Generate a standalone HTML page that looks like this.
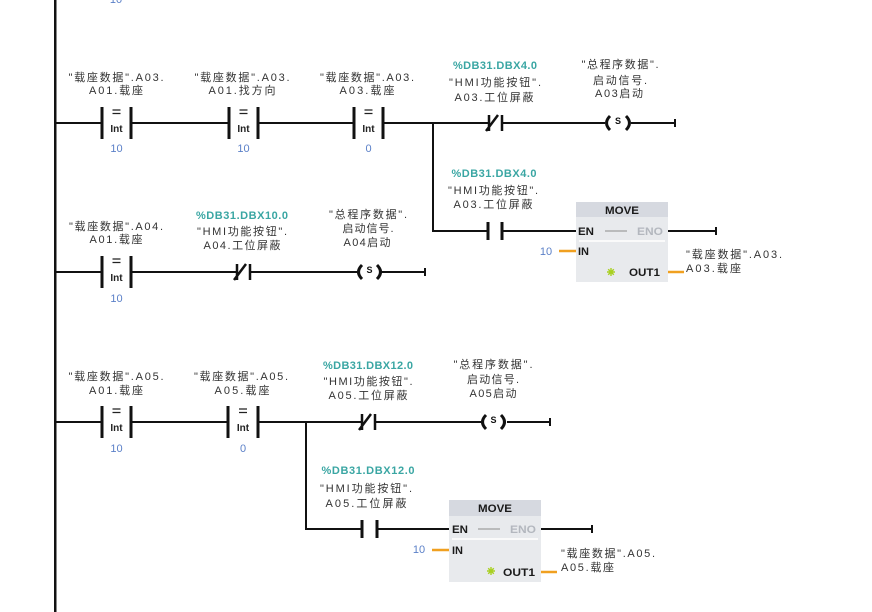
<!DOCTYPE html>
<html><head><meta charset="utf-8"><style>
html,body{margin:0;padding:0;background:#fff;}
svg{display:block;}
text{font-family:"Liberation Sans","Noto Sans CJK SC",sans-serif;}
.l{font-size:11px;fill:#333;text-anchor:middle;}
.ls{font-size:11px;fill:#333;}
.t{font-size:11px;font-weight:bold;fill:#3aa6a3;text-anchor:middle;}
.n{font-size:11px;fill:#5b80c8;text-anchor:middle;}
.i{font-size:10px;font-weight:bold;fill:#222;text-anchor:middle;}
.s{font-size:9px;font-weight:bold;fill:#111;text-anchor:middle;}
.w{stroke:#111;stroke-width:2;fill:none;}
.b{stroke:#111;stroke-width:3;fill:none;}
.p{stroke:#111;stroke-width:2.5;fill:none;}
.c{stroke:#111;stroke-width:3;fill:none;}
.eq{stroke:#222;stroke-width:1.3;fill:none;}
.o{stroke:#f0a020;stroke-width:2.5;fill:none;}
.bk{font-size:11px;font-weight:bold;fill:#1a1a1a;}
.g{font-size:11px;font-weight:bold;fill:#b3b7be;}
</style></head><body>
<svg width="872" height="612" xmlns="http://www.w3.org/2000/svg">
<rect width="872" height="612" fill="#fff"/>
<rect x="54" y="0" width="2.5" height="612" fill="#111"/>
<text class="n" x="116" y="3">10</text>

<!-- ===== Rung 1 (L=123) ===== -->
<path class="w" d="M55 123H102M131 123H229M258 123H354M383 123H489M502 123H605M631 123H675"/>
<path class="w" d="M675 119V127"/>
<path class="b" d="M102 107V139M131 107V139M229 107V139M258 107V139M354 107V139M383 107V139"/>
<path class="eq" d="M112.5 110H120.5M112.5 113.5H120.5M239.5 110H247.5M239.5 113.5H247.5M364.5 110H372.5M364.5 113.5H372.5"/>
<text class="i" x="116.5" y="132">Int</text>
<text class="i" x="243.5" y="132">Int</text>
<text class="i" x="368.5" y="132">Int</text>
<text class="n" x="116.5" y="152">10</text>
<text class="n" x="243.5" y="152">10</text>
<text class="n" x="368.5" y="152">0</text>
<text class="l" x="116" y="81" textLength="95" lengthAdjust="spacing">"载座数据".A03.</text>
<text class="l" x="116" y="94" textLength="54" lengthAdjust="spacing">A01.载座</text>
<text class="l" x="242" y="81" textLength="95" lengthAdjust="spacing">"载座数据".A03.</text>
<text class="l" x="242" y="94" textLength="67" lengthAdjust="spacing">A01.找方向</text>
<text class="l" x="367" y="81" textLength="94" lengthAdjust="spacing">"载座数据".A03.</text>
<text class="l" x="367" y="94" textLength="55" lengthAdjust="spacing">A03.载座</text>
<path class="p" d="M489 115V131M502 115V131M486 131L498 115"/>
<text class="t" x="495" y="69" textLength="84" lengthAdjust="spacing">%DB31.DBX4.0</text>
<text class="l" x="495" y="86" textLength="92" lengthAdjust="spacing">"HMI功能按钮".</text>
<text class="l" x="494" y="101" textLength="79" lengthAdjust="spacing">A03.工位屏蔽</text>
<path class="c" d="M610 116Q603 123 610 130M626 116Q633 123 626 130"/>
<text class="s" x="618" y="124">S</text>
<text class="l" x="620" y="68" textLength="77" lengthAdjust="spacing">"总程序数据".</text>
<text class="l" x="620" y="84" textLength="54" lengthAdjust="spacing">启动信号.</text>
<text class="l" x="619" y="97" textLength="48" lengthAdjust="spacing">A03启动</text>
<path class="w" d="M433 123V231H488M502 231H576"/>
<path class="b" d="M488 222V240M502 222V240"/>
<text class="t" x="494" y="177" textLength="85" lengthAdjust="spacing">%DB31.DBX4.0</text>
<text class="l" x="493" y="194" textLength="90" lengthAdjust="spacing">"HMI功能按钮".</text>
<text class="l" x="493" y="208" textLength="79" lengthAdjust="spacing">A03.工位屏蔽</text>
<rect x="576" y="202" width="92" height="80" fill="#e8eaed"/>
<rect x="576" y="202" width="92" height="15" fill="#d6d9e0"/>
<text class="bk" x="605" y="214" textLength="34" lengthAdjust="spacingAndGlyphs">MOVE</text>
<text class="bk" x="578" y="235" textLength="16" lengthAdjust="spacingAndGlyphs">EN</text>
<path d="M605 231H627" stroke="#8c8c8c" stroke-width="1"/>
<text class="g" x="637" y="235" textLength="26" lengthAdjust="spacingAndGlyphs">ENO</text>
<path d="M579 241H665" stroke="#fff" stroke-width="1.5"/>
<text class="bk" x="578" y="255">IN</text>
<g stroke="#a8d020" stroke-width="1.4"><path d="M611 268V276M607 272H615M608.2 269.2L613.8 274.8M613.8 269.2L608.2 274.8"/></g>
<text class="bk" x="629" y="276" textLength="31" lengthAdjust="spacingAndGlyphs">OUT1</text>
<path class="w" d="M668 231H716M716 227V235"/>
<text class="n" x="546" y="255">10</text>
<path class="o" d="M559 251H576"/>
<path class="o" d="M668 272H684"/>
<text class="ls" x="686" y="258" textLength="96" lengthAdjust="spacing">"载座数据".A03.</text>
<text class="ls" x="686" y="272" textLength="55" lengthAdjust="spacing">A03.载座</text>

<!-- ===== Rung 2 (L=272) ===== -->
<path class="w" d="M55 272H102M131 272H237M250 272H357M381 272H425M425 268V276"/>
<path class="b" d="M102 256V288M131 256V288"/>
<path class="eq" d="M112.5 259H120.5M112.5 262.5H120.5"/>
<text class="i" x="116.5" y="281">Int</text>
<text class="n" x="116.5" y="302">10</text>
<text class="l" x="116" y="230" textLength="94" lengthAdjust="spacing">"载座数据".A04.</text>
<text class="l" x="116" y="243" textLength="53" lengthAdjust="spacing">A01.载座</text>
<path class="p" d="M237 264V280M250 264V280M234 280L246 264"/>
<text class="t" x="242" y="219" textLength="92" lengthAdjust="spacing">%DB31.DBX10.0</text>
<text class="l" x="242" y="235" textLength="90" lengthAdjust="spacing">"HMI功能按钮".</text>
<text class="l" x="242" y="249" textLength="77" lengthAdjust="spacing">A04.工位屏蔽</text>
<path class="c" d="M362 265Q355 272 362 279M377 265Q384 272 377 279"/>
<text class="s" x="369.5" y="273">S</text>
<text class="l" x="368" y="218" textLength="78" lengthAdjust="spacing">"总程序数据".</text>
<text class="l" x="368" y="232" textLength="51" lengthAdjust="spacing">启动信号.</text>
<text class="l" x="367" y="246" textLength="47" lengthAdjust="spacing">A04启动</text>

<!-- ===== Rung 3 (L=422) ===== -->
<path class="w" d="M55 422H102M131 422H228M258 422H362M375 422H481M507 422H550M550 418V426"/>
<path class="b" d="M102 406V438M131 406V438M228 406V438M258 406V438"/>
<path class="eq" d="M112.5 409H120.5M112.5 412.5H120.5M239 409H247M239 412.5H247"/>
<text class="i" x="116.5" y="431">Int</text>
<text class="i" x="243" y="431">Int</text>
<text class="n" x="116.5" y="452">10</text>
<text class="n" x="243" y="452">0</text>
<text class="l" x="116" y="380" textLength="95" lengthAdjust="spacing">"载座数据".A05.</text>
<text class="l" x="116" y="394" textLength="54" lengthAdjust="spacing">A01.载座</text>
<text class="l" x="241" y="380" textLength="94" lengthAdjust="spacing">"载座数据".A05.</text>
<text class="l" x="242" y="394" textLength="55" lengthAdjust="spacing">A05.载座</text>
<path class="p" d="M362 414V430M375 414V430M359 430L371 414"/>
<text class="t" x="368" y="369" textLength="90" lengthAdjust="spacing">%DB31.DBX12.0</text>
<text class="l" x="368" y="385" textLength="89" lengthAdjust="spacing">"HMI功能按钮".</text>
<text class="l" x="368" y="399" textLength="79" lengthAdjust="spacing">A05.工位屏蔽</text>
<path class="c" d="M486 415Q479 422 486 429M501 415Q508 422 501 429"/>
<text class="s" x="493.5" y="423">S</text>
<text class="l" x="493" y="368" textLength="79" lengthAdjust="spacing">"总程序数据".</text>
<text class="l" x="493" y="383" textLength="52" lengthAdjust="spacing">启动信号.</text>
<text class="l" x="493" y="397" textLength="47" lengthAdjust="spacing">A05启动</text>
<path class="w" d="M306 422V529H362M377 529H449"/>
<path class="b" d="M362 520V538M377 520V538"/>
<text class="t" x="368" y="474" textLength="93" lengthAdjust="spacing">%DB31.DBX12.0</text>
<text class="l" x="366" y="492" textLength="92" lengthAdjust="spacing">"HMI功能按钮".</text>
<text class="l" x="366" y="507" textLength="81" lengthAdjust="spacing">A05.工位屏蔽</text>
<rect x="449" y="500" width="92" height="82" fill="#e8eaed"/>
<rect x="449" y="500" width="92" height="16" fill="#d6d9e0"/>
<text class="bk" x="478" y="512" textLength="34" lengthAdjust="spacingAndGlyphs">MOVE</text>
<text class="bk" x="452" y="533" textLength="16" lengthAdjust="spacingAndGlyphs">EN</text>
<path d="M478 529H500" stroke="#8c8c8c" stroke-width="1"/>
<text class="g" x="510" y="533" textLength="26" lengthAdjust="spacingAndGlyphs">ENO</text>
<path d="M452 539H538" stroke="#fff" stroke-width="1.5"/>
<text class="bk" x="452" y="554">IN</text>
<g stroke="#a8d020" stroke-width="1.4"><path d="M491 567V575M487 571H495M488.2 568.2L493.8 573.8M493.8 568.2L488.2 573.8"/></g>
<text class="bk" x="503" y="576" textLength="32" lengthAdjust="spacingAndGlyphs">OUT1</text>
<path class="w" d="M541 529H592M592 525V533"/>
<text class="n" x="419" y="553">10</text>
<path class="o" d="M432 550H449"/>
<path class="o" d="M541 572H557"/>
<text class="ls" x="561" y="557" textLength="94" lengthAdjust="spacing">"载座数据".A05.</text>
<text class="ls" x="561" y="571" textLength="53" lengthAdjust="spacing">A05.载座</text>
</svg>
</body></html>
